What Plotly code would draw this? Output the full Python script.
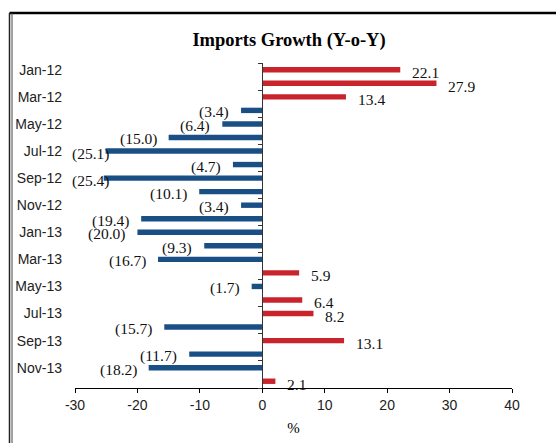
import plotly.graph_objects as go

months = ["Jan-12", "Feb-12", "Mar-12", "Apr-12", "May-12", "Jun-12", "Jul-12", "Aug-12",
          "Sep-12", "Oct-12", "Nov-12", "Dec-12", "Jan-13", "Feb-13", "Mar-13", "Apr-13",
          "May-13", "Jun-13", "Jul-13", "Aug-13", "Sep-13", "Oct-13", "Nov-13", "Dec-13"]
growth = [22.1, 27.9, 13.4, -3.4, -6.4, -15.0, -25.1, -4.7,
          -25.4, -10.1, -3.4, -19.4, -20.0, -9.3, -16.7, 5.9,
          -1.7, 6.4, 8.2, -15.7, 13.1, -11.7, -18.2, 2.1]
x_ticks = [-30, -20, -10, 0, 10, 20, 30, 40]
x_ticktext = ["-30", "-20", "-10", "0", "10", "20", "30", "40"]

RED = "#C9232B"
BLUE = "#1A4F85"
X_MIN, X_MAX = -30, 40

idx = list(range(len(months)))
colors = [RED if v >= 0 else BLUE for v in growth]
labels = [f"({abs(v):.1f})" if v < 0 else f"{v:.1f}" for v in growth]

fig = go.Figure()
fig.add_trace(go.Bar(
    x=growth, y=idx, orientation="h", width=0.4,
    marker=dict(color=colors, line=dict(width=0)),
    showlegend=False, hoverinfo="skip",
))
# invisible trace to carry the secondary (zero-line) y-axis
fig.add_trace(go.Scatter(x=[0], y=[0], yaxis="y2", mode="markers",
                         marker=dict(opacity=0), showlegend=False, hoverinfo="skip"))

lab_font = dict(family="Liberation Serif", size=15.5, color="#111111")
for i, v, t in zip(idx, growth, labels):
    if v >= 0:
        fig.add_annotation(x=v, y=i, text=t, showarrow=False, xanchor="left",
                           xshift=10, yshift=-3, font=lab_font)
    elif v < X_MIN + 7:
        # label pushed inside the chart area, as the original does
        fig.add_annotation(x=X_MIN, y=i, text=t, showarrow=False, xanchor="left",
                           xshift=-5, yshift=-3, font=lab_font)
    else:
        fig.add_annotation(x=v, y=i, text=t, showarrow=False, xanchor="right",
                           xshift=-10, yshift=-2, font=lab_font)

yrange = [len(months) - 0.5, -0.5]
fig.update_layout(
    width=556, height=443,
    margin=dict(l=75, r=44, t=63, b=55, autoexpand=False),
    paper_bgcolor="white", plot_bgcolor="white",
    title=dict(text="<b>Imports Growth (Y-o-Y)</b>", x=289 / 556, xanchor="center",
               y=1 - 40 / 443, yanchor="middle",
               font=dict(family="Liberation Serif", size=18.5, color="black")),
    xaxis=dict(range=[X_MIN, X_MAX], tickvals=x_ticks, ticktext=x_ticktext,
               showgrid=False, zeroline=False, automargin=False,
               showline=True, linecolor="black", linewidth=1,
               ticks="outside", ticklen=4, tickcolor="black",
               tickfont=dict(family="Liberation Sans", size=14, color="#222222"),
               title=dict(text="%", font=dict(family="Liberation Serif", size=15, color="black"),
                          standoff=10)),
    yaxis=dict(range=yrange, tickvals=idx[::2], ticktext=months[::2],
               showgrid=False, zeroline=False, showline=False, ticks="", automargin=False,
               tickfont=dict(family="Liberation Sans", size=14, color="#222222"),
               ticklabelstandoff=12),
    yaxis2=dict(range=yrange, overlaying="y", anchor="free",
                position=(0 - X_MIN) / (X_MAX - X_MIN), side="left",
                tickvals=[i - 0.5 for i in range(0, len(months) + 1, 2)],
                showticklabels=False, showgrid=False, zeroline=False, automargin=False,
                showline=True, linecolor="#333333", linewidth=1,
                ticks="outside", ticklen=4, tickcolor="#333333"),
)

# outer frame (top and left edges visible in the reference)
def px_x(p):
    return (p - 75) / 437

def px_y(p):
    return (388 - p) / 325

fig.add_shape(type="line", xref="paper", yref="paper",
              x0=px_x(9.5), x1=px_x(560), y0=px_y(13), y1=px_y(13),
              line=dict(color="black", width=2.5))
fig.add_shape(type="line", xref="paper", yref="paper",
              x0=px_x(9.5), x1=px_x(9.5), y0=px_y(13), y1=px_y(450),
              line=dict(color="#222222", width=1.5))
fig.add_shape(type="line", xref="paper", yref="paper",
              x0=px_x(12), x1=px_x(12), y0=px_y(13), y1=px_y(450),
              line=dict(color="#444444", width=1))

fig.write_html("out.html", config={"displayModeBar": False},
               post_script="document.body.style.margin='0';")
